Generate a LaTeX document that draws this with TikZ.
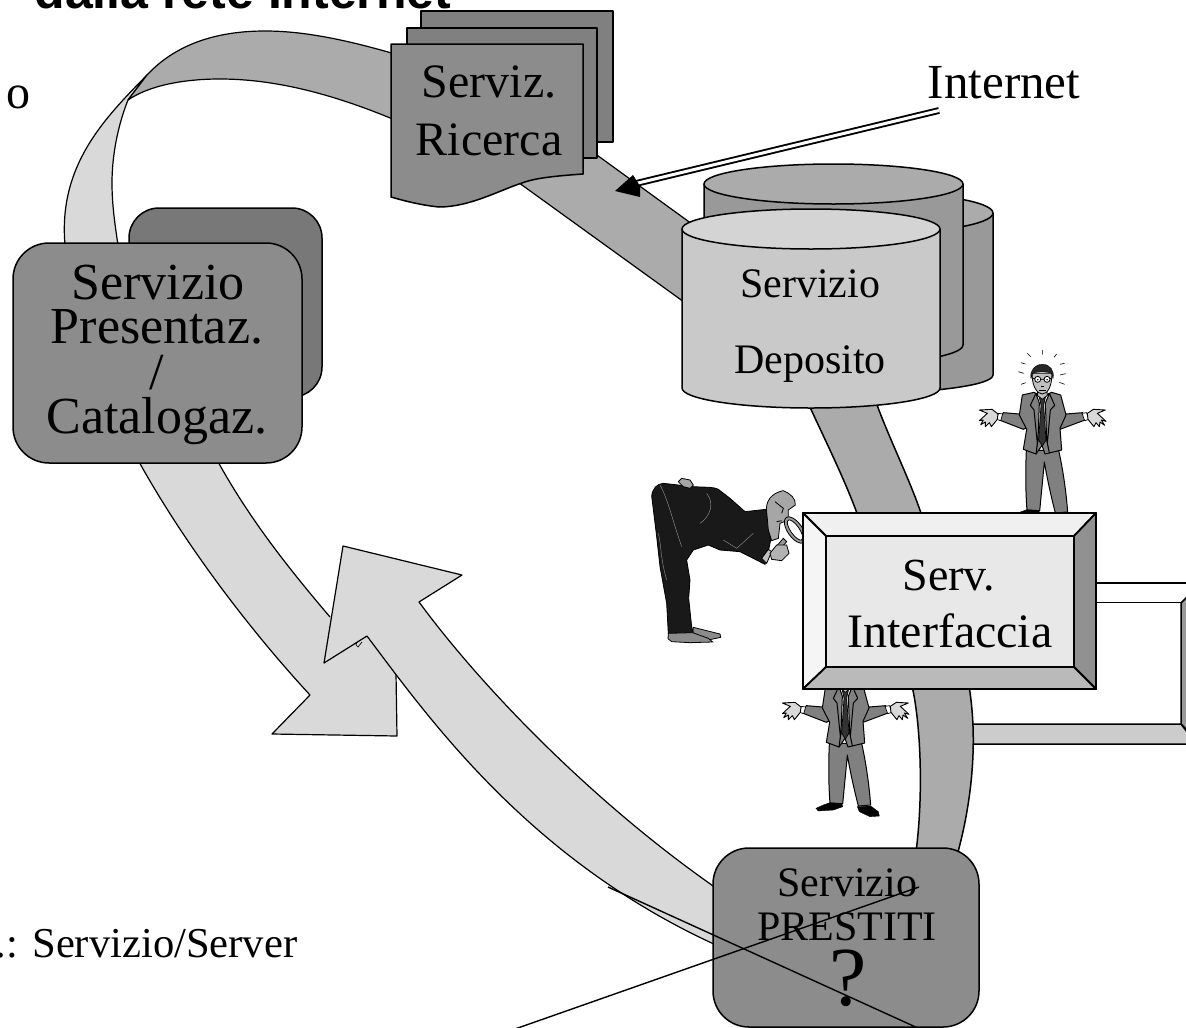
\documentclass[tikz,border=0pt]{standalone}
\usepackage{fontspec}
\setmainfont{Liberation Serif}
\newfontfamily\headsans{Liberation Sans}
\newcommand{\fsz}[1]{\fontsize{#1}{#1}\selectfont}
\tikzset{
  edge/.style={draw=black,line width=1.5pt,line join=round},
  lab/.style={inner sep=0pt,anchor=base,text=black},
  thin edge/.style={draw=black,line width=0.5pt,line join=round},
  shrugman/.pic={
    \begin{scope}[shift={(960,340)},scale=1/3]
      % trousers
      \draw[thin edge,line width=1pt,fill=gMid] (199,331) .. controls (196,400) and (197,460) .. (201,511) -- (239,513) .. controls (245,450) and (250,400) .. (253,366) .. controls (262,420) and (276,480) .. (286,519) -- (323,516) .. controls (318,450) and (308,385) .. (296,331) -- cycle;
      \draw[fill=black] (201,509) -- (181,516) -- (159,526) -- (166,534) -- (211,531) -- (239,521) -- (236,511) -- cycle;
      \draw[fill=black] (283,521) -- (289,536) -- (321,551) -- (349,549) -- (346,536) -- (323,519) -- cycle;
      % arms
      \draw[thin edge,line width=1pt,fill=gMid] (178,222) -- (130,218) -- (118,240) -- (190,268) -- (202,262) -- cycle;
      \draw[thin edge,line width=1pt,fill=gMid] (318,222) -- (368,218) -- (375,240) -- (300,268) -- (290,262) -- cycle;
      % jacket
      \draw[thin edge,line width=1pt,fill=gMid] (187,165) -- (222,157) -- (248,170) -- (275,157) -- (302,165) -- (318,225) -- (300,265) -- (305,330) -- (255,342) -- (246,316) -- (228,342) -- (190,328) -- (200,268) -- (178,225) -- cycle;
      % shirt and tie
      \draw[thin edge,line width=0.7pt,fill=white] (228,162) -- (246,178) -- (266,162) -- (262,300) -- (234,300) -- cycle;
      \draw[thin edge,line width=0.7pt,fill=gDark] (238,172) -- (256,172) -- (251,195) -- (258,300) -- (247,318) -- (236,300) -- (243,195) -- cycle;
      % lapels
      \draw[thin edge,line width=1pt,fill=gMid] (228,160) -- (211,196) -- (222,210) -- (232,310) -- (228,342) -- (234,300) -- (238,190) -- cycle;
      \draw[thin edge,line width=1pt,fill=gMid] (268,160) -- (284,196) -- (271,210) -- (262,310) -- (268,338) -- (260,300) -- (256,190) -- cycle;
      % cuffs and hands
      \draw[thin edge,line width=0.7pt,fill=white] (115,220) -- (128,222) -- (122,242) -- (110,238) -- cycle;
      \draw[thin edge,line width=0.7pt,fill=white] (366,220) -- (380,218) -- (386,238) -- (374,242) -- cycle;
      \draw[thin edge,line width=0.9pt,fill=gLight] (114,222) -- (96,208) -- (58,210) -- (82,220) -- (58,242) -- (70,240) -- (62,254) -- (76,246) -- (76,260) -- (88,248) -- (94,260) -- (104,248) -- (112,238) -- cycle;
      \draw[thin edge,line width=0.9pt,fill=gLight] (382,220) -- (400,208) -- (436,210) -- (412,220) -- (438,244) -- (424,240) -- (434,256) -- (420,246) -- (418,260) -- (408,248) -- (402,260) -- (392,248) -- (384,238) -- cycle;
      % neck and head
      \draw[thin edge,line width=0.8pt,fill=gFace] (234,145) -- (232,166) -- (247,178) -- (262,166) -- (260,145) -- cycle;
      \draw[thin edge,line width=0.8pt,fill=gFace] (216,100) .. controls (216,140) and (232,162) .. (247,162) .. controls (262,162) and (276,140) .. (276,100) -- cycle;
      \draw[fill=black!85] (213,115) .. controls (208,92) and (225,72) .. (248,73) .. controls (270,73) and (284,92) .. (279,115) -- (274,100) .. controls (262,94) and (232,94) .. (218,100) -- cycle;
      \draw[line width=0.8pt,fill=white] (233,118) circle (9) (261,118) circle (9);
      \draw[line width=0.8pt] (216,114) -- (224,116) (242,118) -- (252,118) (270,116) -- (277,114);
      \fill (233,119) circle (2.5) (261,119) circle (2.5);
      \draw[line width=0.8pt] (243,140) -- (253,140) (237,150) -- (258,150);
      % rays
      \draw[line width=0.6pt] (248,30) -- (248,44) (202,40) -- (212,50) (290,42) -- (282,52) (183,68) -- (196,72) (300,73) -- (314,70) (175,95) -- (191,100) (300,105) -- (317,101) (183,133) -- (197,128) (298,127) -- (314,133);
    \end{scope}
  },
}
\definecolor{gMid}{gray}{0.50}
\definecolor{gDark}{gray}{0.2}
\definecolor{gLight}{gray}{0.85}
\definecolor{gFace}{gray}{0.75}
\definecolor{ribbonDark}{gray}{0.67}
\definecolor{ribbonLight}{gray}{0.85}
\definecolor{boxGray}{gray}{0.55}
\begin{document}
\begin{tikzpicture}[x=1pt,y=-1pt]
\useasboundingbox (0,0) rectangle (1186,1028);
\clip (0,0) rectangle (1186,1028);
\fill[white] (0,0) rectangle (1186,1028);

% clipped heading and side texts
\node[lab,font=\headsans\bfseries\fsz{50}] (head) at (243,8) {dalla rete Internet};
\node[lab,anchor=base west,font=\fsz{48}] (sideO) at (6,108) {o};
\node[lab,anchor=base west,font=\fsz{42.6}] (legend) at (-4.5,957) {.: Servizio/Server};

% light ribbon behind catalog box
\draw[edge,line width=1.2pt,fill=ribbonLight] (147,75) .. controls (105,118) and (58,165) .. (65,245) -- (118,245) .. controls (115,225) and (112,205) .. (112,183) .. controls (112,155) and (118,125) .. (128,100) -- cycle;
% dark top ribbon
\draw[edge,line width=1.2pt,fill=ribbonDark] (395,54) .. controls (340,38) and (300,31) .. (265,31) .. controls (215,31) and (175,45) .. (147,75) -- (128,100) .. controls (150,85) and (185,79) .. (220,79) .. controls (280,79) and (340,97) .. (395,120) -- cycle;
% ribbon search -> deposit
\draw[edge,line width=1.2pt,fill=ribbonDark] (590,150) -- (692,224) -- (684,302) -- (515,180) -- cycle;
% ribbon deposit -> interface
\draw[edge,fill=ribbonDark] (809,405) .. controls (825,440) and (845,480) .. (858,516) -- (922,516) .. controls (910,480) and (892,445) .. (877,405) -- cycle;
% right frame
\draw[edge,fill=white] (1090,583) -- (1190,583) -- (1190,603) -- (1090,603) -- cycle;
\fill[white] (1096,603) rectangle (1181,724);
\draw[edge,fill=black!20] (960,724) -- (1181,724) -- (1196,744) -- (960,744) -- cycle;
\draw[edge,fill=black!40] (1181,603) -- (1196,588) -- (1196,739) -- (1181,724) -- cycle;
% ribbon interface -> loans
\draw[edge,fill=ribbonDark] (912,686) .. controls (920,720) and (924,790) .. (916,852) -- (958,852) .. controls (972,800) and (978,740) .. (969,686) -- cycle;

% curved arrow from catalog box (its inner end stays open under the other arrow)
\fill[ribbonLight] (217,460) .. controls (250,520) and (290,570) .. (330,617) -- (380,630) -- (402,662) -- (396,673) -- (397,736) -- (272,734) -- (310,695) .. controls (250,630) and (185,545) .. (138,460) -- cycle;
\draw[edge,line width=1.2pt] (217,460) .. controls (250,520) and (290,570) .. (330,617);
\draw[edge,line width=1.2pt] (396,673) -- (397,736) -- (272,734) -- (310,695) .. controls (250,630) and (185,545) .. (138,460);
% curved arrow from loans box
\draw[edge,line width=1.2pt,fill=ribbonLight] (343,546) -- (462,575) -- (419,602) .. controls (480,685) and (590,800) .. (716,888) -- (716,945) .. controls (530,860) and (430,720) .. (367,636) -- (324,663) -- cycle;
\draw[line width=0.7pt] (357,642) -- (356,645) -- (358,647) -- (362,642);

% search service stack
\draw[edge,fill=black!50] (421,11) rectangle (613,142);
\draw[edge,fill=black!50] (407,28) rectangle (597,158);
\draw[edge,fill=boxGray] (391,44) -- (583,44) -- (583,174) .. controls (555,176) and (535,178) .. (522,183) .. controls (500,190) and (470,207) .. (439,207) .. controls (420,205) and (405,201) .. (391,197) -- cycle;
\node[lab,font=\fsz{48}] (serviz) at (489,97) {Serviz.};
\node[lab,font=\fsz{48}] (ricerca) at (489,155) {Ricerca};

% deposit cylinders
\draw[edge,fill=black!40] (735,213) -- (735,375) arc[start angle=180,end angle=0,x radius=129,y radius=18] -- (993,213) -- cycle;
\draw[edge,fill=black!33] (864,213) ellipse [x radius=129,y radius=21];
\draw[edge,fill=black!40] (704,184) -- (704,345) arc[start angle=180,end angle=0,x radius=129.5,y radius=20] -- (963,184) -- cycle;
\draw[edge,fill=black!33] (833.5,184) ellipse [x radius=129.5,y radius=20];
\draw[edge,fill=black!21] (682,229) -- (682,388) arc[start angle=180,end angle=0,x radius=129,y radius=20] -- (940,229) -- cycle;
\draw[edge,fill=black!17] (811,229) ellipse [x radius=129,y radius=20];
\node[lab,font=\fsz{42}] (servizio1) at (810,297) {Servizio};
\node[lab,font=\fsz{42}] (deposito) at (810,373) {Deposito};

% Internet
\node[lab,font=\fsz{49}] (internet) at (1004,98) {Internet};
\coordinate (inetStart) at (939,110.5);
\coordinate (inetEnd) at (636,183.5);
\draw[double=white,double distance=3pt,line width=1.9pt] (inetStart) -- (inetEnd);
\fill (615,191) -- (633,175) -- (640,186) -- (640,197) -- cycle;

% catalog boxes
\draw[edge,fill=black!53,rounded corners=30pt] (129,208) rectangle (322,397);
\draw[edge,fill=boxGray,rounded corners=36pt] (13,243) rectangle (302,463);
\node[lab,font=\fsz{52}] (cat1) at (158,299) {Servizio};
\node[lab,font=\fsz{52}] (cat2) at (157,343) {Presentaz.};
\node[lab,font=\fsz{52}] (cat3) at (157,389) {/};
\node[lab,font=\fsz{52}] (cat4) at (157,433) {Catalogaz.};

% people
\pic at (0,0) {shrugman};
\pic at (-197,293) {shrugman};

% bent man with magnifier
\begin{scope}[shift={(640,470)},scale=1/3]
  \draw[line width=0.8pt,fill=black!45] (160,472) -- (240,492) -- (242,502) -- (205,510) -- (158,490) -- cycle;
  \draw[line width=0.8pt,fill=black!90] (35,78) .. controls (38,55) and (50,42) .. (70,40) -- (160,50) .. controls (190,52) and (220,50) .. (235,58) -- (270,85) -- (315,125) -- (378,118) -- (392,210) -- (386,240) -- (375,283) -- (300,245) -- (240,240) -- (205,225) -- (160,240) -- (140,270) -- (150,330) -- (146,385) -- (155,470) -- (160,490) -- (85,492) -- (80,400) -- (60,290) -- (50,200) -- cycle;
  \draw[line width=0.8pt,fill=black!45] (85,490) -- (158,488) -- (205,505) -- (218,516) -- (150,518) -- (95,515) -- (84,506) -- cycle;
  \draw[white!60!black,line width=0.4pt] (60,45) .. controls (85,90) and (100,160) .. (125,230) (200,70) .. controls (225,100) and (210,140) .. (180,160) (250,210) -- (290,235) -- (340,190) (55,190) .. controls (65,230) and (60,260) .. (80,330);
  \draw[line width=0.8pt,fill=black!35] (115,35) -- (125,25) -- (150,30) -- (160,45) -- (150,55) -- (130,50) -- cycle;
  \draw[line width=0.8pt,fill=black!35] (380,125) .. controls (375,95) and (395,68) .. (430,62) .. controls (450,70) and (468,85) .. (466,105) -- (445,120) -- (445,150) -- (420,160) -- (415,205) -- (395,212) -- (385,180) -- cycle;
  \draw[line width=0.8pt] (405,95) -- (430,115) -- (425,130) (410,155) -- (425,152);
  \draw[line width=0.8pt,fill=black!40,rotate around={-55:(465,180)}] (465,180) ellipse [x radius=46,y radius=22];
  \draw[line width=0.8pt,fill=white,rotate around={-55:(465,180)}] (465,180) ellipse [x radius=36,y radius=13];
  \draw[line width=0.8pt,fill=black!25] (365,265) -- (385,238) -- (395,245) -- (380,280) -- cycle;
  \draw[line width=0.8pt,fill=black!40] (430,205) -- (395,245) -- (405,255) -- (440,215) -- cycle;
  \draw[line width=0.8pt,fill=black!30] (390,250) -- (410,225) -- (440,225) -- (447,250) -- (425,272) -- (395,268) -- cycle;
\end{scope}

% interface box
\draw[edge,line width=1.8pt,fill=black!6] (803,513) -- (1096,513) -- (1074,536) -- (826,536) -- cycle;
\draw[edge,line width=1.8pt,fill=black!4] (803,513) -- (826,536) -- (826,667) -- (803,689) -- cycle;
\draw[edge,line width=1.8pt,fill=black!43] (1096,513) -- (1096,689) -- (1074,667) -- (1074,536) -- cycle;
\draw[edge,line width=1.8pt,fill=black!27] (803,689) -- (826,667) -- (1074,667) -- (1096,689) -- cycle;
\draw[edge,line width=1.8pt,fill=black!9] (826,536) rectangle (1074,667);
\node[lab,font=\fsz{46}] (serv) at (949,590) {Serv.};
\node[lab,font=\fsz{48}] (interf) at (950,647) {Interfaccia};

% loans box
\draw[edge,fill=boxGray,rounded corners=36pt] (713,848) rectangle (979,1027);
\node[lab,font=\fsz{42}] (loan1) at (847,896) {Servizio};
\node[lab,font=\fsz{42}] (loan2) at (847,940) {PRESTITI};
\node[lab,font=\fsz{84}] (loan3) at (848,1005) {?};
\coordinate (crossA) at (608,887);
\coordinate (crossB) at (920,1029);
\coordinate (crossC) at (515,1029);
\coordinate (crossD) at (919,887);
\draw[line width=1.4pt] (crossA) -- (crossB);
\draw[line width=1.4pt] (crossC) -- (crossD);
\end{tikzpicture}
\end{document}
